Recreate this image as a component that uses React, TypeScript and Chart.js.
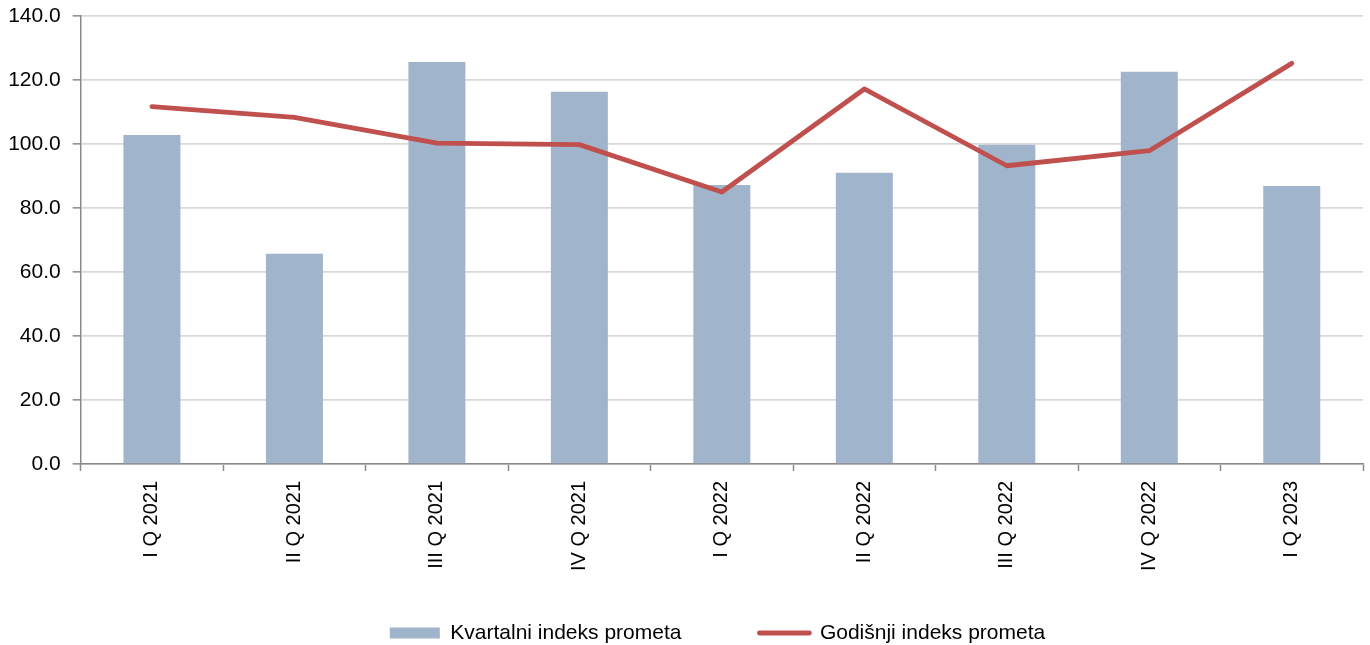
import React, { useEffect, useRef } from "react";
import { Chart, registerables } from "chart.js";

Chart.register(...registerables);

const categories = [
  "I Q 2021",
  "II Q 2021",
  "III Q 2021",
  "IV Q 2021",
  "I Q 2022",
  "II Q 2022",
  "III Q 2022",
  "IV Q 2022",
  "I Q 2023",
];
const kvartalni = [102.8, 65.7, 125.6, 116.3, 87.2, 91.0, 99.8, 122.6, 86.9];
const godisnji = [111.7, 108.3, 100.3, 99.8, 85.0, 117.2, 93.2, 97.9, 125.2];
const seriesNames = ["Kvartalni indeks prometa", "Godišnji indeks prometa"];
const yTicks = { min: 0, max: 140, step: 20 };

const BAR_COLOR = "#A0B4CB";
const LINE_COLOR = "#C0504D";
const AXIS_COLOR = "#898989";
const GRID_COLOR = "#d9d9d9";
const FONT = "'Liberation Sans', Arial, sans-serif";

const legendPlacer = {
  id: "legendPlacer",
  afterLayout(chart: any) {
    const l = chart.legend;
    if (!l) return;
    l.top = 544.5;
    l.height = 110;
    l.bottom = l.top + l.height;
    l.left = 72;
    l.right = 1363;
    l.width = l.right - l.left;
  },
};

export default function App() {
  const ref = useRef<HTMLCanvasElement | null>(null);

  useEffect(() => {
    if (!ref.current) return;
    const chart = new Chart(ref.current, {
      type: "bar",
      data: {
        labels: categories,
        datasets: [
          {
            type: "line",
            label: seriesNames[1],
            data: godisnji,
            borderColor: LINE_COLOR,
            backgroundColor: LINE_COLOR,
            borderWidth: 4.8,
            pointRadius: 0,
            borderCapStyle: "round",
            borderJoinStyle: "round",
            tension: 0,
            order: 0,
          },
          {
            type: "bar",
            label: seriesNames[0],
            data: kvartalni,
            backgroundColor: BAR_COLOR,
            borderWidth: 0,
            barPercentage: 0.4,
            categoryPercentage: 1,
            order: 1,
          },
        ],
      },
      options: {
        animation: false,
        responsive: false,
        maintainAspectRatio: false,
        layout: { padding: { left: 0, right: 7, top: 16, bottom: 0 } },
        scales: {
          x: {
            offset: true,
            grid: {
              offset: true,
              drawOnChartArea: false,
              drawTicks: true,
              tickLength: 7,
              tickColor: AXIS_COLOR,
              tickWidth: 1.5,
            },
            border: { color: AXIS_COLOR, width: 1.5 },
            ticks: {
              maxRotation: 90,
              minRotation: 90,
              padding: 10,
              color: "#000",
              font: { family: FONT, size: 20 },
              autoSkip: false,
            },
            afterFit: (s: any) => {
              s.height = 161;
              s.paddingLeft = 0;
              s.paddingRight = 0;
            },
          },
          y: {
            min: yTicks.min,
            max: yTicks.max,
            grid: {
              color: GRID_COLOR,
              lineWidth: 1.7,
              tickLength: 8,
              tickColor: AXIS_COLOR,
              tickWidth: 1.5,
            },
            border: { color: AXIS_COLOR, width: 1.5 },
            ticks: {
              stepSize: yTicks.step,
              padding: 12,
              color: "#000",
              font: { family: FONT, size: 21 },
              callback: (v: any) => Number(v).toFixed(1),
            },
            afterFit: (s: any) => {
              s.width = 80.7;
              s.paddingTop = 0;
              s.paddingBottom = 0;
            },
          },
        },
        plugins: {
          tooltip: { enabled: false },
          legend: {
            position: "bottom",
            maxHeight: 20,
            labels: {
              usePointStyle: true,
              pointStyleWidth: 50,
              boxHeight: 11,
              padding: 78,
              color: "#000",
              font: { family: FONT, size: 21 },
              generateLabels: () => [
                {
                  text: seriesNames[0],
                  fillStyle: BAR_COLOR,
                  strokeStyle: BAR_COLOR,
                  lineWidth: 0,
                  pointStyle: "rect",
                  datasetIndex: 1,
                  hidden: false,
                },
                {
                  text: seriesNames[1],
                  fillStyle: LINE_COLOR,
                  strokeStyle: LINE_COLOR,
                  lineWidth: 4.8,
                  lineCap: "round",
                  pointStyle: "line",
                  datasetIndex: 0,
                  hidden: false,
                },
              ],
            },
          },
        },
      },
      plugins: [legendPlacer],
    } as any);
    return () => chart.destroy();
  }, []);

  return (
    <div style={{ position: "fixed", left: 0, top: 0, width: 1370, height: 645, background: "#fff" }}>
      <canvas ref={ref} width={1370} height={645} style={{ display: "block", width: 1370, height: 645 }} />
    </div>
  );
}
